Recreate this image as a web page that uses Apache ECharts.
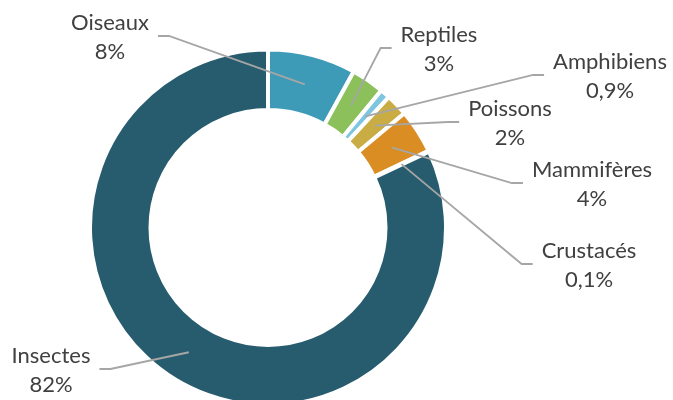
<!DOCTYPE html>
<html>
<head>
<meta charset="utf-8">
<script src="https://cdn.jsdelivr.net/npm/echarts@6/dist/echarts.min.js"></script>
<style>
html,body{margin:0;padding:0;background:#fff;}
#chart{width:673px;height:400px;}
</style>
</head>
<body>
<div id="chart"></div>
<script>
// Data
var categories = ['Oiseaux', 'Reptiles', 'Amphibiens', 'Poissons', 'Mammifères', 'Crustacés', 'Insectes'];
var shares = [8, 3, 0.9, 2, 4, 0.1, 82];
var colors = ['#3e9bb8', '#8bc05b', '#7ec6e0', '#c9ad44', '#d98d22', '#9a4a2a', '#265c6e'];

// Layout of label blocks (centre x, middle y) and side (1 = right of line, -1 = left)
var labelPos = [[110, 37], [439, 49], [610, 76], [510, 123], [592, 184], [589, 265], [51, 370]];
var labelSide = [-1, 1, 1, 1, 1, 1, -1];

var chart = echarts.init(document.getElementById('chart'), null, {renderer: 'canvas'});

var data = categories.map(function (c, i) {
  return {name: c, value: shares[i], itemStyle: {color: colors[i]}};
});

function fmt(p) {
  return p.name + '\n' + String(p.value).replace('.', ',') + '%';
}

var option = {
  animation: false,
  backgroundColor: '#ffffff',
  series: [
    {
      type: 'pie',
      z: 1,
      center: [268, 227.5],
      radius: [117.5, 178],
      startAngle: 90,
      clockwise: true,
      silent: true,
      label: {show: false},
      labelLine: {show: false},
      itemStyle: {borderColor: '#ffffff', borderWidth: 4},
      data: data
    },
    {
      type: 'pie',
      z: 5,
      center: [268, 227.5],
      radius: [0, 147.75],
      startAngle: 90,
      clockwise: true,
      silent: true,
      avoidLabelOverlap: false,
      itemStyle: {color: 'rgba(0,0,0,0)', borderWidth: 0},
      label: {
        show: true,
        position: 'outside',
        formatter: fmt,
        fontFamily: 'Lato',
        fontSize: 22,
        lineHeight: 29,
        color: '#404040',
        align: 'center'
      },
      labelLine: {
        show: true,
        length: 20,
        length2: 10,
        lineStyle: {color: '#a6a6a6', width: 1.8}
      },
      labelLayout: function (params) {
        var i = params.dataIndex;
        var pos = labelPos[i];
        var side = labelSide[i];
        var w = params.labelRect.width;
        var start = params.labelLinePoints ? params.labelLinePoints[0] : [268, 227.5];
        var lineY = pos[1] - 1;
        var endX = side > 0 ? pos[0] - w / 2 - 9 : pos[0] + w / 2 + 9;
        var elbowX = side > 0 ? endX - 11 : endX + 11;
        return {
          x: pos[0],
          y: pos[1],
          align: 'center',
          verticalAlign: 'middle',
          labelLinePoints: [start, [elbowX, lineY], [endX, lineY]]
        };
      },
      data: data.map(function (d) { return {name: d.name, value: d.value}; })
    }
  ]
};
chart.setOption(option);
</script>
</body>
</html>
